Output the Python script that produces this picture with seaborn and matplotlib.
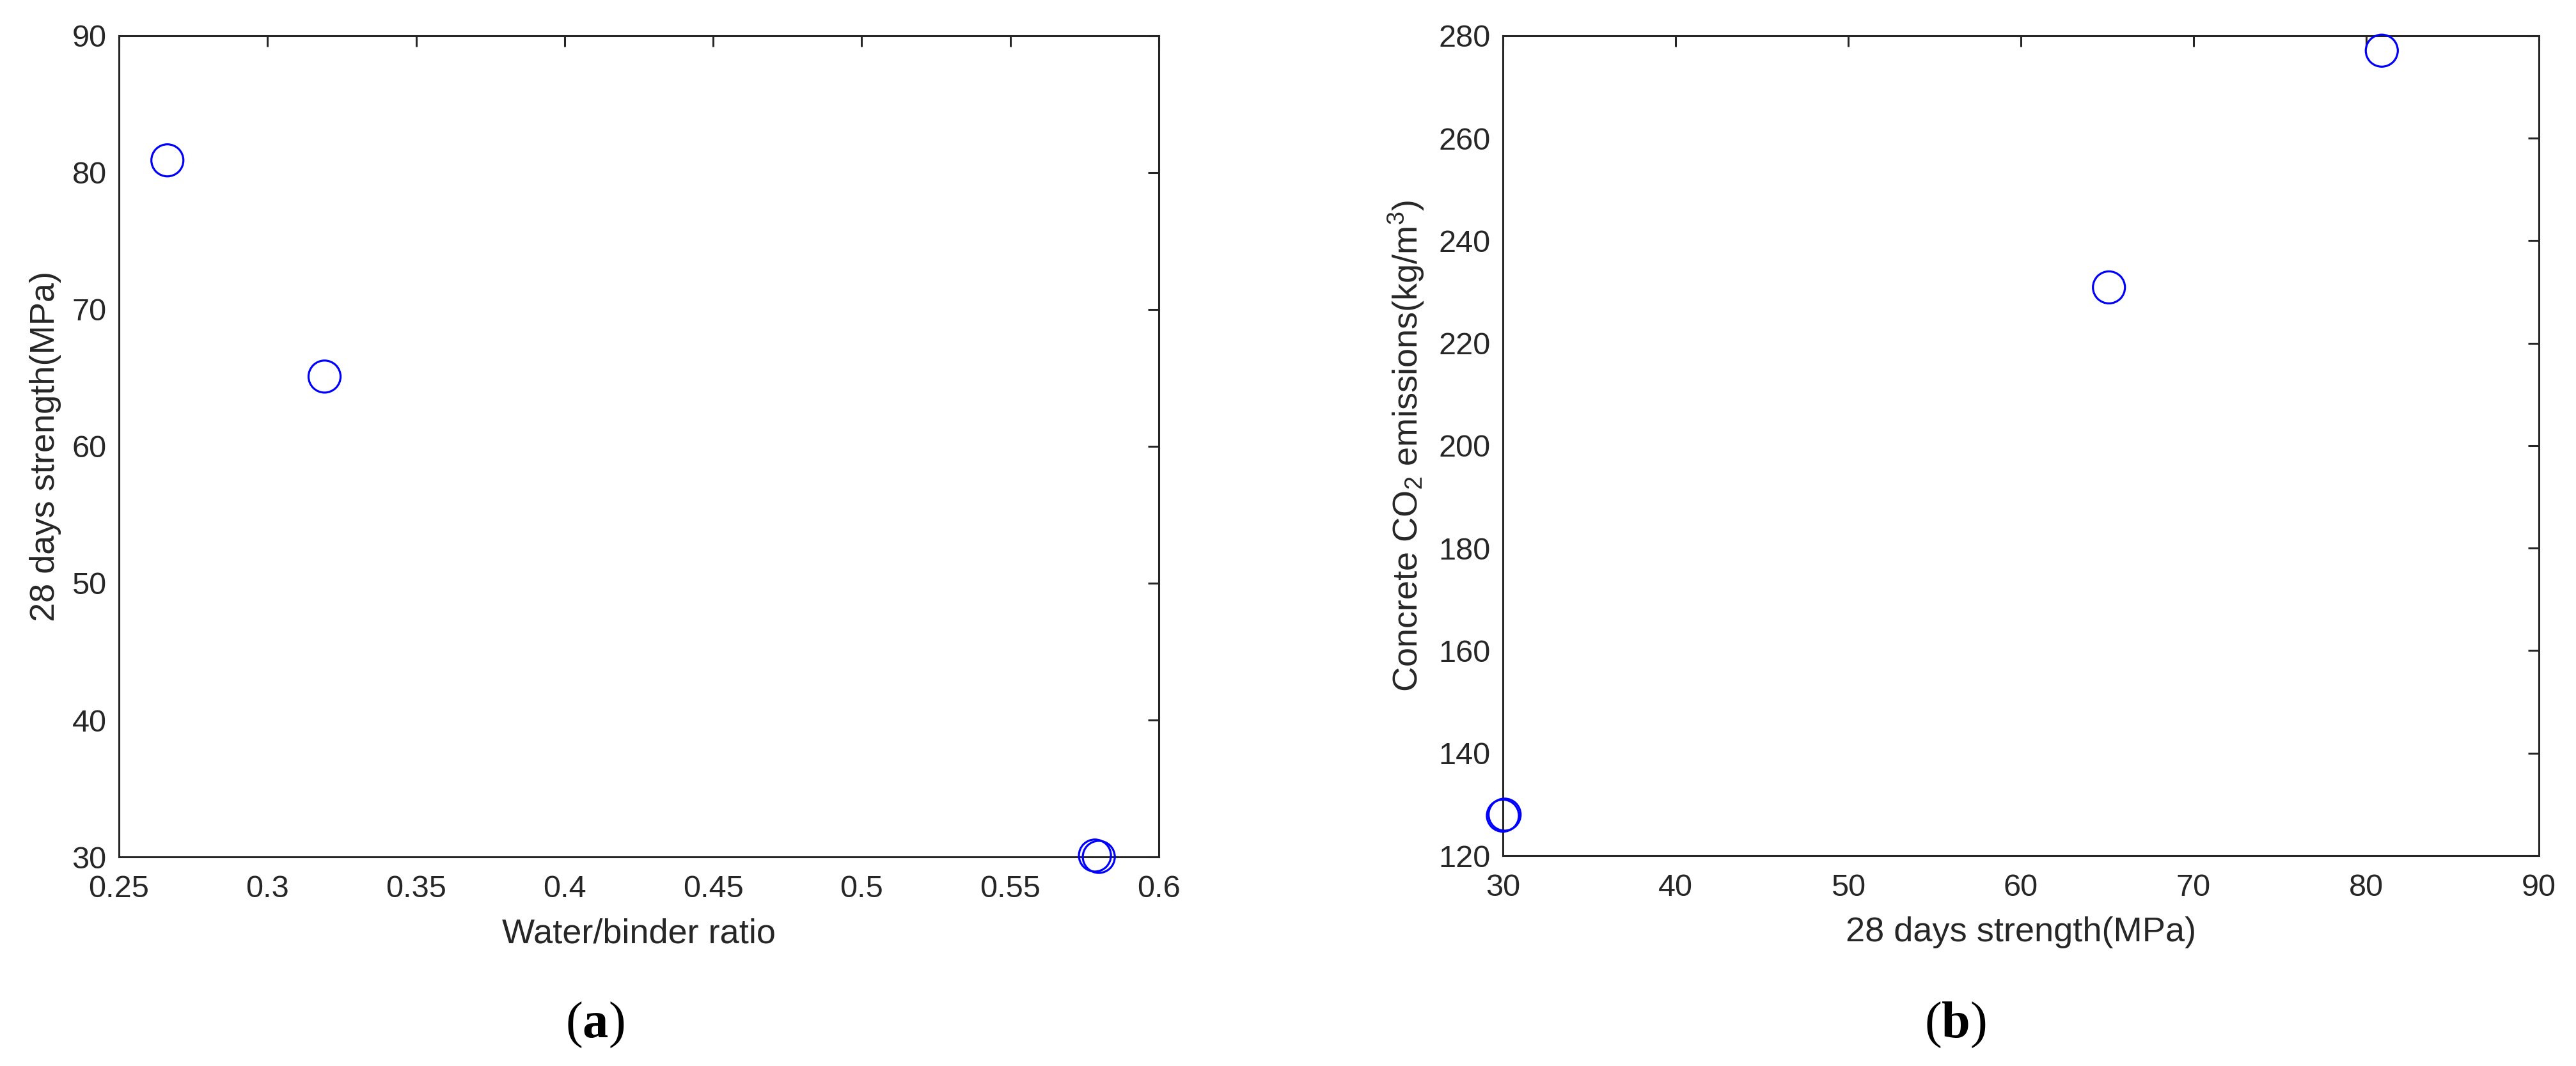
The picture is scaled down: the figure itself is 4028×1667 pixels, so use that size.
import numpy as np
import pandas as pd
import matplotlib
matplotlib.use("Agg")
import matplotlib.pyplot as plt
import seaborn as sns
from matplotlib.ticker import FuncFormatter

# values
wb_ratio = [0.2663, 0.3192, 0.5785, 0.5798]
strength = [80.9, 65.1, 30.1, 30.0]
co2 = [277.1, 230.9, 128.0, 127.8]
panel_tags = ["a", "b"]

df = pd.DataFrame({"wb": wb_ratio, "strength": strength, "co2": co2})

sns.set_style("white")
plt.rcParams["font.family"] = ["Liberation Sans", "DejaVu Sans"]
plt.rcParams["mathtext.fontset"] = "custom"
plt.rcParams["mathtext.rm"] = "Liberation Sans"
plt.rcParams["mathtext.bf"] = "Liberation Serif:bold"
plt.rcParams["mathtext.default"] = "regular"

edge = "#262626"
fig = plt.figure(figsize=(40.28, 16.67), dpi=100)
ax1 = fig.add_axes([0.04618, 0.19616, 0.40367, 0.77025])
ax2 = fig.add_axes([0.58342, 0.19736, 0.40218, 0.76905])

sns.scatterplot(data=df, x="wb", y="strength", ax=ax1, marker="o", s=1300,
                facecolor="none", edgecolor="blue", linewidth=2.3,
                clip_on=False, zorder=5)
sns.scatterplot(data=df, x="strength", y="co2", ax=ax2, marker="o", s=1300,
                facecolor="none", edgecolor="blue", linewidth=2.3,
                clip_on=False, zorder=5)

fmt = FuncFormatter(lambda v, p: "%g" % round(v, 4))

ax1.set_xlim(0.25, 0.6)
ax1.set_ylim(30, 90)
ax1.set_xticks(np.arange(0.25, 0.6001, 0.05))
ax1.set_yticks(np.arange(30, 91, 10))
ax1.set_xlabel("Water/binder ratio", fontsize=39, labelpad=16)
ax1.set_ylabel("28 days strength(MPa)", fontsize=39, labelpad=12)

ax2.set_xlim(30, 90)
ax2.set_ylim(120, 280)
ax2.set_xticks(np.arange(30, 91, 10))
ax2.set_yticks(np.arange(120, 281, 20))
ax2.set_xlabel("28 days strength(MPa)", fontsize=39, labelpad=16)
ax2.set_ylabel("Concrete CO$_2$ emissions(kg/m$^3$)", fontsize=39, labelpad=14)

for ax in (ax1, ax2):
    ax.xaxis.set_major_formatter(fmt)
    ax.yaxis.set_major_formatter(fmt)
    ax.tick_params(axis="both", direction="in", length=12, width=2.2,
                   color=edge, labelcolor=edge, labelsize=35,
                   top=True, right=True)
    ax.tick_params(axis="x", pad=20)
    ax.tick_params(axis="y", pad=14)
    for sp in ax.spines.values():
        sp.set_visible(True)
        sp.set_color(edge)
        sp.set_linewidth(2.2)
    ax.xaxis.label.set_color(edge)
    ax.yaxis.label.set_color(edge)

# panel captions under each plot
for tag, xc in zip(panel_tags, [930, 3057]):
    fig.text(xc / 4028, 1 - 1603 / 1667, "($\\mathbf{%s}$)" % tag,
             ha="center", va="center", fontsize=58,
             family="Liberation Serif", color="black")

fig.savefig("out.png", dpi=100, facecolor="white")
